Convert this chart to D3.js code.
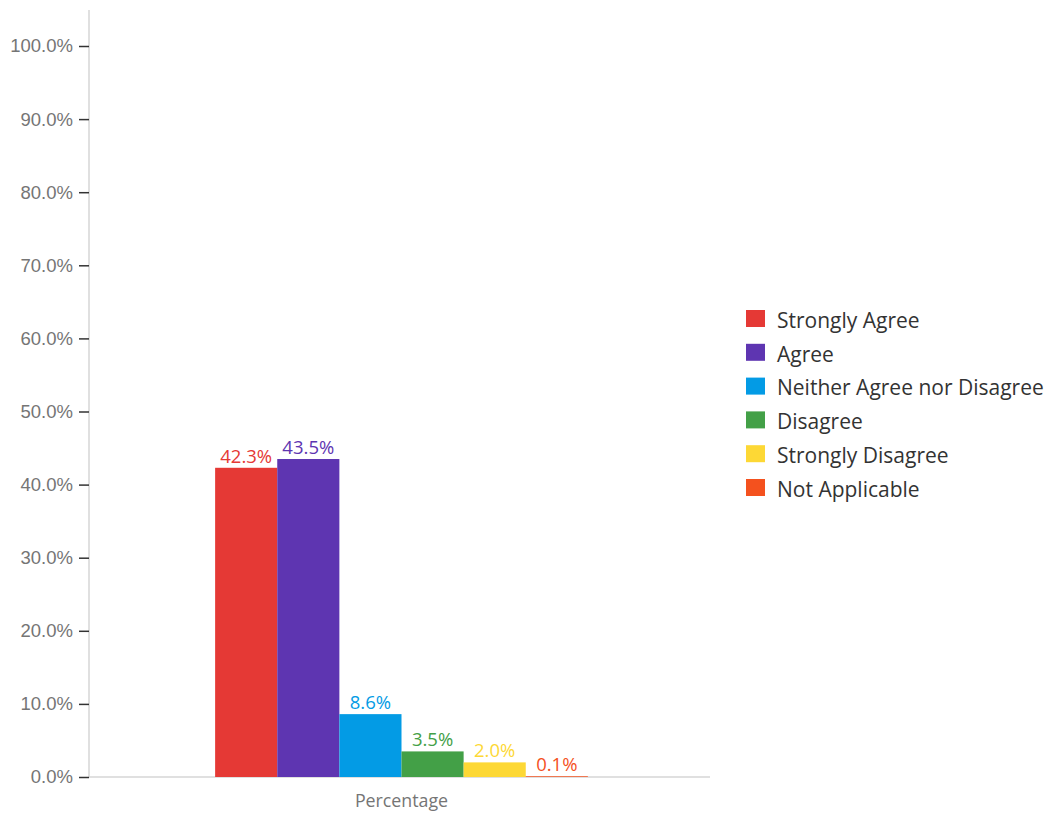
<!DOCTYPE html>
<html>
<head>
<meta charset="utf-8">
<script src="https://cdn.jsdelivr.net/npm/d3@7"></script>
<style>
  body { margin: 0; background: #fff; }
  svg { font-family: "Open Sans", Roboto, sans-serif; }
</style>
</head>
<body>
<div id="chart"></div>
<script>
const categories = ['Strongly Agree', 'Agree', 'Neither Agree nor Disagree', 'Disagree', 'Strongly Disagree', 'Not Applicable'];
const values = [42.3, 43.5, 8.6, 3.5, 2.0, 0.1];
const colors = ['#e53935', '#5e35b1', '#039be5', '#43a047', '#fdd835', '#f4511e'];
const groupLabel = 'Percentage';
const yTicks = [0, 10, 20, 30, 40, 50, 60, 70, 80, 90, 100];

const width = 1050,
  height = 814;

const margin = { top: 46, left: 89, right: 340, bottom: 37 };

const svg = d3
  .select('#chart')
  .append('svg')
  .attr('width', width)
  .attr('height', height);

const plotW = width - margin.left - margin.right;

let y = d3.scaleLinear().domain([0, 100]).range([height - margin.bottom, margin.top]);

let x0 = d3.scaleBand().domain([groupLabel]).range([margin.left + 2, margin.left + plotW + 2]).paddingInner(0).paddingOuter(0.333);
let x1 = d3.scaleBand().domain(categories).range([0, x0.bandwidth()]);

// y axis line (light)
svg
  .append('line')
  .attr('x1', margin.left)
  .attr('x2', margin.left)
  .attr('y1', 10)
  .attr('y2', y(0))
  .attr('stroke', '#d6d6d6')
  .attr('stroke-width', 1.5);

let yAxis = (g) =>
  g
    .attr('transform', `translate(${margin.left},0)`)
    .call(
      d3
        .axisLeft(y)
        .tickValues(yTicks)
        .tickSize(10)
        .tickPadding(6)
        .tickFormat((d) => d.toFixed(1) + '%')
    )
    .call((g) => g.select('.domain').remove())
    .call((g) => g.selectAll('.tick line').attr('stroke', '#333').attr('stroke-width', 1.5))
    .call((g) => g.selectAll('.tick text').attr('fill', '#757575').attr('font-size', 18.5));

svg.append('g').call(yAxis);

// x baseline
svg
  .append('line')
  .attr('x1', margin.left)
  .attr('x2', margin.left + plotW)
  .attr('y1', y(0))
  .attr('y2', y(0))
  .attr('stroke', '#d6d6d6')
  .attr('stroke-width', 1.5);

const group = svg.append('g').attr('transform', `translate(${x0(groupLabel)},0)`);

group
  .selectAll('rect')
  .data(values)
  .enter()
  .append('rect')
  .attr('x', (d, i) => x1(categories[i]))
  .attr('y', (d) => y(d))
  .attr('width', x1.bandwidth())
  .attr('height', (d) => y(0) - y(d))
  .attr('fill', (d, i) => colors[i]);

group
  .selectAll('text.val')
  .data(values)
  .enter()
  .append('text')
  .attr('class', 'val')
  .attr('x', (d, i) => x1(categories[i]) + x1.bandwidth() / 2)
  .attr('y', (d) => y(d) - 5)
  .attr('text-anchor', 'middle')
  .attr('font-size', 18.5)
  .attr('fill', (d, i) => colors[i])
  .text((d) => d.toFixed(1) + '%');

svg
  .append('text')
  .attr('x', x0(groupLabel) + x0.bandwidth() / 2)
  .attr('y', 807)
  .attr('text-anchor', 'middle')
  .attr('font-size', 17.8)
  .attr('fill', '#757575')
  .text(groupLabel);

// legend
const legend = svg
  .append('g')
  .attr('transform', 'translate(746,310)')
  .selectAll('g')
  .data(categories)
  .enter()
  .append('g')
  .attr('transform', (d, i) => `translate(0,${i * 33.8})`);

legend
  .append('rect')
  .attr('width', 19)
  .attr('height', 17)
  .attr('fill', (d, i) => colors[i]);

legend
  .append('text')
  .attr('x', 31)
  .attr('y', 10.5)
  .attr('dy', '0.35em')
  .attr('font-size', 21)
  .attr('fill', '#333')
  .text((d) => d);
</script>
</body>
</html>
